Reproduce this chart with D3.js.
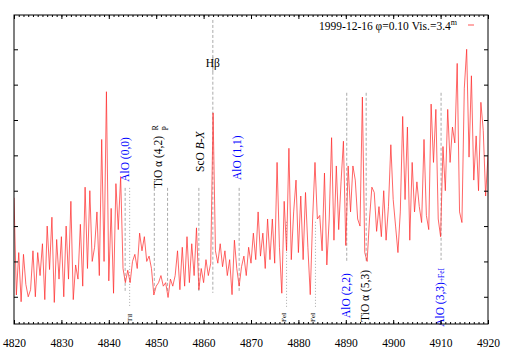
<!DOCTYPE html>
<html>
<head>
<meta charset="utf-8">
<script src="https://cdn.jsdelivr.net/npm/d3@7"></script>
<style>
  body { margin: 0; background: #fff; }
  svg { display: block; }
  text { font-family: "Liberation Serif", "DejaVu Serif", serif; }
</style>
</head>
<body>
<div class="card"></div>
<script>
const w = 509;
const h = 356;
const margin = {left: 14, top: 15, right: 21, bottom: 32};

// spectrum, sampled every 0.5 A from 4820 A
const waveStart = 4820;
const waveStep = 0.5;
const flux = [
  3.8, 1.05, 2.25, 0.86, 2.2, 1.35, 1.0, 1.2, 2.3, 1.0,      // 4820
  2.25, 1.6, 2.5, 0.92, 3.0, 1.77, 3.25, 0.84, 2.62, 1.5,    // 4825
  2.7, 1.0, 3.0, 1.5, 3.7, 0.92, 1.9, 1.5, 3.05, 1.3,        // 4830
  4.1, 1.8, 4.0, 2.0, 2.4, 3.4, 1.6, 5.45, 2.0, 6.8,         // 4835
  1.45, 3.5, 1.1, 4.2, 2.9, 4.4, 1.8, 1.4, 1.75, 1.4,        // 4840
  2.0, 2.2, 1.8, 2.8, 2.3, 2.7, 2.0, 2.15, 1.8, 1.05,        // 4845
  1.3, 1.4, 1.6, 1.3, 1.4, 0.98, 1.5, 1.3, 1.6, 2.3,         // 4850
  1.2, 2.4, 1.3, 2.7, 1.4, 2.5, 1.6, 2.95, 1.2, 1.8,         // 4855
  1.4, 2.05, 1.6, 1.95, 6.2, 2.3, 1.95, 2.5, 1.85, 2.3,      // 4860
  1.6, 2.05, 1.06, 2.6, 1.8, 1.3, 1.85, 2.15, 1.6, 2.4,      // 4865
  1.95, 2.8, 2.05, 3.4, 2.15, 2.8, 1.8, 3.2, 2.05, 3.2,      // 4870
  1.95, 4.8, 2.4, 1.1, 3.7, 2.3, 5.2, 2.05, 3.4, 4.3,        // 4875
  2.25, 3.85, 2.05, 3.95, 2.4, 1.06, 3.2, 4.8, 3.2, 3.3,     // 4880
  2.3, 4.5, 1.9, 3.2, 5.5, 2.6, 4.7, 2.9, 4.25, 5.4,         // 4885
  2.45, 4.7, 3.4, 4.7, 4.3, 3.2, 3.0, 6.65, 2.25, 2.0,       // 4890
  3.2, 4.1, 3.95, 2.85, 3.55, 2.7, 4.0, 2.6, 3.55, 5.3,      // 4895
  3.75, 3.0, 2.25, 3.4, 6.1, 3.75, 5.8, 2.6, 4.8, 3.4,       // 4900
  4.25, 3.55, 3.1, 5.45, 3.3, 2.9, 6.45, 4.8, 6.3, 3.2,      // 4905
  2.7, 5.25, 4.0, 6.3, 4.8, 5.8, 5.35, 7.6, 3.4, 3.1,        // 4910
  6.9, 8.0, 4.95, 7.25, 4.3, 5.55, 4.0, 6.5, 5.7, 3.85,      // 4915
  5.0                                                        // 4920
];

const xTicks = [4820, 4830, 4840, 4850, 4860, 4870, 4880, 4890, 4900, 4910, 4920];
const yTicks = [1, 2, 3, 4, 5, 6, 7, 8];
const legendText = "1999-12-16 φ=0.10 Vis.=3.4";

// identification marks: wavelength, from/to in flux units
const idLines = [
  {wave: 4843.45, top: 4.08, bottom: 1.11, dash: "3,2"},   // AlO (0,0)
  {wave: 4844.4,  top: 4.08, bottom: 0.71, dash: "1,2"},   // Ti I
  {wave: 4849.6,  top: 4.08, bottom: 1.11, dash: "3,2"},   // TiO R
  {wave: 4852.4,  top: 4.08, bottom: 1.11, dash: "3,2"},   // TiO P
  {wave: 4859.0,  top: 4.08, bottom: 1.11, dash: "3,2"},   // ScO
  {wave: 4861.95, top: 8.83, bottom: 7.36, dash: "3,2"},   // Hb above label
  {wave: 4861.95, top: 7.79, bottom: 1.11, dash: "3,2"},   // Hb below label
  {wave: 4867.5,  top: 4.08, bottom: 1.11, dash: "3,2"},   // AlO (1,1)
  {wave: 4877.5,  top: 3.12, bottom: 0.71, dash: "1,2"},   // Fe I
  {wave: 4883.6,  top: 3.12, bottom: 0.71, dash: "1,2"},   // Fe I
  {wave: 4890.2,  top: 6.77, bottom: 1.98, dash: "3,2"},   // AlO (2,2)
  {wave: 4894.3,  top: 6.77, bottom: 1.98, dash: "3,2"},   // TiO (5,3)
  {wave: 4910.1,  top: 6.77, bottom: 2.04, dash: "3,2"}    // AlO (3,3)
];

// rotated labels: wavelength of glyph centre, flux where text starts
const idLabels = [
  {text: "AlO (0,0)",   wave: 4843.4, at: 4.25, color: "#0000ff", size: 11.5},
  {text: "TiI",         wave: 4844.3, at: 0.29, color: "#000",    size: 7},
  {text: "TiO α (4,2)", wave: 4850.5, at: 4.08, color: "#000",    size: 11.5},
  {text: "ScO ",        wave: 4859.3, at: 4.53, color: "#000",    size: 11.5, ital: "B-X"},
  {text: "AlO (1,1)",   wave: 4867.1, at: 4.30, color: "#0000ff", size: 11.5},
  {text: "FeI",         wave: 4876.9, at: 0.29, color: "#000",    size: 7},
  {text: "FeI",         wave: 4882.9, at: 0.29, color: "#000",    size: 7},
  {text: "AlO (2,2)",   wave: 4890.1, at: 0.40, color: "#0000ff", size: 11.5},
  {text: "TiO α (5,3)", wave: 4894.0, at: 0.29, color: "#000",    size: 11.5},
  {text: "AlO (3,3)",   wave: 4909.8, at: 0.15, color: "#0000ff", size: 11.5, small: "+FeI"}
];

const svg = d3.select(".card")
  .append("svg")
  .attr("width", w)
  .attr("height", h);

svg.append("rect").attr("width", w).attr("height", h).attr("fill", "#fff");

const xScale = d3.scaleLinear()
  .domain([4820, 4920])
  .range([margin.left, w - margin.right]);
const yScale = d3.scaleLinear()
  .domain([0.23, 8.97])
  .range([h - margin.bottom, margin.top]);

const spectrum = flux.map((f, i) => ({wave: waveStart + i * waveStep, f: f}));

// id lines (behind spectrum)
svg.selectAll(".idline")
  .data(idLines)
  .enter().append("line")
  .attr("class", "idline")
  .attr("x1", d => xScale(d.wave))
  .attr("x2", d => xScale(d.wave))
  .attr("y1", d => yScale(d.top))
  .attr("y2", d => yScale(d.bottom))
  .attr("stroke", "#aaa")
  .attr("stroke-width", 1)
  .attr("stroke-dasharray", d => d.dash);

svg.append("clipPath").attr("id", "clip")
  .append("rect")
  .attr("x", margin.left).attr("y", margin.top)
  .attr("width", w - margin.left - margin.right)
  .attr("height", h - margin.top - margin.bottom);

const line = d3.line()
  .x(d => xScale(d.wave))
  .y(d => yScale(d.f));

svg.append("path")
  .datum(spectrum)
  .attr("clip-path", "url(#clip)")
  .attr("d", line)
  .attr("fill", "none")
  .attr("stroke", "#ff2a2a")
  .attr("stroke-opacity", 0.8)
  .attr("stroke-width", 0.9)
  .attr("stroke-linejoin", "round");

// rotated labels
idLabels.forEach(d => {
  const t = svg.append("text")
    .attr("transform", "translate(" + (xScale(d.wave) + d.size * 0.34) + "," + yScale(d.at) + ") rotate(-90)")
    .attr("fill", d.color)
    .style("font-size", d.size + "px")
    .text(d.text);
  if (d.ital) t.append("tspan").style("font-style", "italic").text(d.ital);
  if (d.small) t.append("tspan").style("font-size", "7.5px").text(d.small);
});

// R / P branch marks of TiO (4,2)
svg.append("text")
  .attr("transform", "translate(" + (xScale(4850.5) - 0.5) + "," + yScale(5.7) + ") rotate(-90)")
  .style("font-size", "8px").text("R");
svg.append("text")
  .attr("transform", "translate(" + (xScale(4850.5) + 9) + "," + yScale(5.7) + ") rotate(-90)")
  .style("font-size", "8px").text("P");

svg.append("text")
  .attr("x", xScale(4861.95))
  .attr("y", yScale(7.5))
  .attr("text-anchor", "middle")
  .style("font-size", "11.5px")
  .text("Hβ");

// axes
const minor = d3.range(4820, 4921, 1);
function xAxisGroup(axis, y) {
  svg.append("g")
    .attr("transform", "translate(0," + y + ")")
    .call(axis)
    .call(g => g.select(".domain").remove());
}
xAxisGroup(d3.axisBottom(xScale).tickValues(minor).tickSize(-2).tickFormat(""), h - margin.bottom);
xAxisGroup(d3.axisTop(xScale).tickValues(minor).tickSize(-2).tickFormat(""), margin.top);
xAxisGroup(d3.axisTop(xScale).tickValues(xTicks).tickSize(-4).tickFormat(""), margin.top);

svg.append("g")
  .attr("transform", "translate(0," + (h - margin.bottom) + ")")
  .call(d3.axisBottom(xScale).tickValues(xTicks).tickSize(-4).tickPadding(15).tickFormat(d3.format("d")))
  .call(g => g.select(".domain").remove())
  .call(g => g.selectAll("text")
    .style("font-family", "'Liberation Serif', serif")
    .style("font-size", "11.5px"));

svg.append("g")
  .attr("transform", "translate(" + margin.left + ",0)")
  .call(d3.axisLeft(yScale).tickValues(yTicks).tickSize(-4).tickFormat(""))
  .call(g => g.select(".domain").remove());
svg.append("g")
  .attr("transform", "translate(" + (w - margin.right) + ",0)")
  .call(d3.axisRight(yScale).tickValues(yTicks).tickSize(-4).tickFormat(""))
  .call(g => g.select(".domain").remove());

svg.append("rect")
  .attr("x", margin.left).attr("y", margin.top)
  .attr("width", w - margin.left - margin.right)
  .attr("height", h - margin.top - margin.bottom)
  .attr("fill", "none")
  .attr("stroke", "#000")
  .attr("stroke-width", 1);

// legend
const lg = svg.append("text")
  .attr("x", w - margin.right - 31)
  .attr("y", margin.top + 15)
  .attr("text-anchor", "end")
  .style("font-size", "11.5px")
  .text(legendText);
lg.append("tspan").attr("dy", -5).style("font-size", "8px").text("m");

svg.append("line")
  .attr("x1", w - margin.right - 20).attr("x2", w - margin.right - 14)
  .attr("y1", margin.top + 10).attr("y2", margin.top + 10)
  .attr("stroke", "#ff2a2a").attr("stroke-opacity", 0.8);
</script>
</body>
</html>
